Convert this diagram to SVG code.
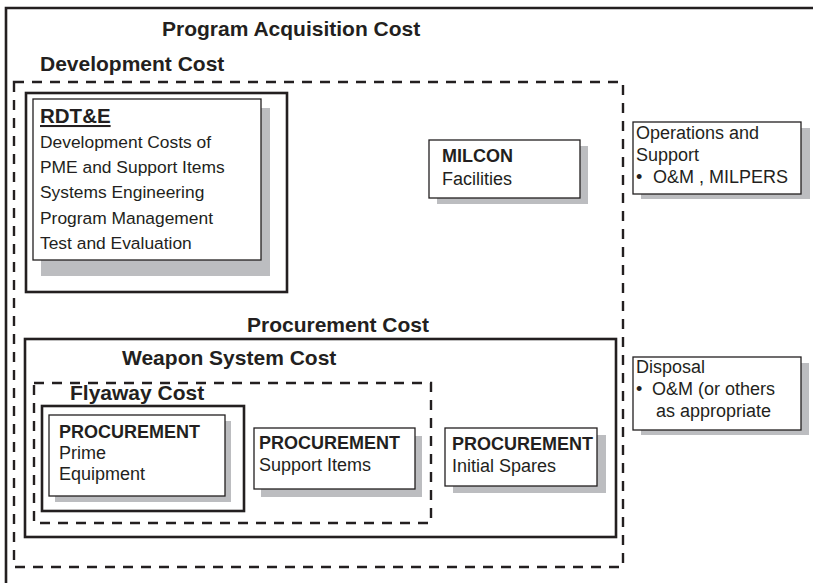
<svg xmlns="http://www.w3.org/2000/svg" width="813" height="583" viewBox="0 0 813 583">
<defs>
<style>
.title{font-family:"Liberation Sans",Arial,sans-serif;font-weight:bold;font-size:21px;fill:#231f20}
.bh{font-family:"Liberation Sans",Arial,sans-serif;font-weight:bold;font-size:18px;fill:#231f20}
.tx{font-family:"Liberation Sans",Arial,sans-serif;font-size:18px;fill:#231f20}
.tr{font-family:"Liberation Sans",Arial,sans-serif;font-size:17.4px;fill:#231f20}
.solid{fill:none;stroke:#231f20;stroke-width:2.6}
.dash{fill:none;stroke:#231f20;stroke-width:2.4;stroke-dasharray:10 8}
.box{fill:#fff;stroke:#231f20;stroke-width:1.3}
.shadow{fill:#bcbdc0}
</style>
</defs>
<rect width="813" height="583" fill="#fff"/>
<g id="program-acquisition">
<path class="solid" d="M6 583 V8 H813"/>
<text class="title" x="162" y="36">Program Acquisition Cost</text>
</g>
<g id="development-cost">
<rect class="dash" x="14" y="82" width="609" height="485"/>
<text class="title" x="40" y="71">Development Cost</text>
</g>
<g id="rdte">
<rect class="solid" x="26" y="93" width="261" height="199"/>
<rect class="shadow" x="41" y="108" width="229" height="168"/>
<rect class="box" x="33" y="99" width="228" height="161"/>
<text class="bh" x="40" y="123" style="font-size:20.5px" text-decoration="underline">RDT&amp;E</text>
<text class="tr" x="40" y="148">Development Costs of</text>
<text class="tr" x="40" y="173">PME and Support Items</text>
<text class="tr" x="40" y="198">Systems Engineering</text>
<text class="tr" x="40" y="224">Program Management</text>
<text class="tr" x="40" y="249">Test and Evaluation</text>
</g>
<g id="milcon">
<rect class="shadow" x="437" y="146" width="151" height="58"/>
<rect class="box" x="429" y="140" width="151" height="58"/>
<text class="bh" x="442" y="162">MILCON</text>
<text class="tx" x="442" y="185">Facilities</text>
</g>
<g id="operations-support">
<rect class="shadow" x="641" y="128" width="169" height="71"/>
<rect class="box" x="633" y="122" width="168" height="72"/>
<text class="tx" x="636" y="139">Operations and</text>
<text class="tx" x="636" y="161">Support</text>
<text class="tx" x="636" y="183">•</text>
<text class="tx" x="653" y="183">O&amp;M , MILPERS</text>
</g>
<g id="disposal">
<rect class="shadow" x="641" y="363" width="168" height="72"/>
<rect class="box" x="633" y="357" width="168" height="73"/>
<text class="tx" x="636" y="373">Disposal</text>
<text class="tx" x="636" y="395">•</text>
<text class="tx" x="652" y="395">O&amp;M (or others</text>
<text class="tx" x="656" y="417">as appropriate</text>
</g>
<g id="procurement-cost">
<rect class="solid" x="25" y="339" width="591" height="198"/>
<text class="title" x="247" y="332">Procurement Cost</text>
</g>
<g id="weapon-system-cost">
<rect class="dash" x="34" y="383" width="397" height="140"/>
<text class="title" x="122" y="365">Weapon System Cost</text>
</g>
<g id="flyaway-cost">
<rect class="solid" x="42" y="406" width="202" height="105"/>
<text class="title" x="70" y="400">Flyaway Cost</text>
</g>
<g id="prime-equipment">
<rect class="shadow" x="55" y="421" width="176" height="81"/>
<rect class="box" x="49" y="415" width="176" height="81"/>
<text class="bh" x="59" y="438">PROCUREMENT</text>
<text class="tx" x="59" y="459">Prime</text>
<text class="tx" x="59" y="480">Equipment</text>
</g>
<g id="support-items">
<rect class="shadow" x="261" y="436" width="161" height="61"/>
<rect class="box" x="254" y="428" width="161" height="61"/>
<text class="bh" x="259" y="449">PROCUREMENT</text>
<text class="tx" x="259" y="471">Support Items</text>
</g>
<g id="initial-spares">
<rect class="shadow" x="453" y="435" width="153" height="58"/>
<rect class="box" x="445" y="428" width="152" height="58"/>
<text class="bh" x="452" y="450">PROCUREMENT</text>
<text class="tx" x="452" y="472">Initial Spares</text>
</g>
<g id="connectors"/>
</svg>
